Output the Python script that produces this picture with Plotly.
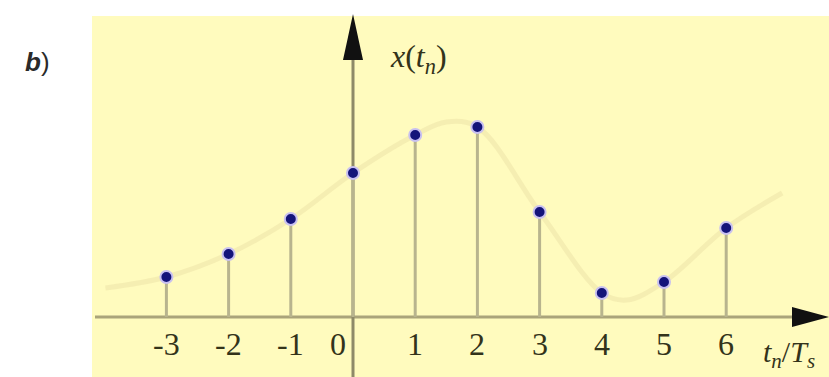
import plotly.graph_objects as go

# sample indices and sampled values
n_idx = [-3, -2, -1, 0, 1, 2, 3, 4, 5, 6]
x_vals = [0.40, 0.63, 0.98, 1.44, 1.82, 1.90, 1.05, 0.24, 0.35, 0.89]

# faint underlying continuous signal
curve_t = [-3.98, -3, -2, -1, 0, 1, 1.5, 2, 3, 4, 4.4, 5, 6, 6.9]
curve_x = [0.29, 0.40, 0.63, 0.98, 1.44, 1.82, 1.95, 1.90, 1.05, 0.24, 0.17, 0.35, 0.89, 1.24]

tick_vals = [-3, -2, -1, 0, 1, 2, 3, 4, 5, 6]
tick_text = ["-3", "-2", "-1", "0", "1", "2", "3", "4", "5", "6"]

W, H = 829, 377
X0, Y0 = 353.0, 317.0   # pixel origin
SX, SY = 62.2, 100.0    # pixels per unit

xr = [(0 - X0) / SX, (W - X0) / SX]
yr = [(Y0 - H) / SY, (Y0 - 0) / SY]

def px(p):
    return (p - X0) / SX

def py(p):
    return (Y0 - p) / SY

fig = go.Figure()

# continuous signal (faint)
fig.add_trace(go.Scatter(
    x=curve_t, y=curve_x, mode="lines",
    line=dict(color="rgba(236,228,168,0.55)", width=5, shape="spline", smoothing=1.0),
    hoverinfo="skip", showlegend=False))

# stems via error bars + markers
fig.add_trace(go.Scatter(
    x=n_idx, y=x_vals, mode="markers",
    marker=dict(size=12, color="#14147a", line=dict(color="#c8c0f0", width=2)),
    error_y=dict(type="data", symmetric=False, array=[0] * len(x_vals),
                 arrayminus=x_vals, color="#b8b48e", thickness=3, width=0),
    showlegend=False))

shapes = [
    dict(type="rect", xref="paper", yref="paper", x0=92 / W, x1=1.0, y0=0, y1=(H - 16) / H,
         fillcolor="#fffbbe", line=dict(width=0), layer="below"),
    dict(type="line", x0=px(95), x1=px(800), y0=0, y1=0,
         line=dict(color="#aaa47a", width=3), layer="below"),
    dict(type="line", x0=0, x1=0, y0=py(377), y1=py(50),
         line=dict(color="#8e8a68", width=3), layer="below"),
    dict(type="path",
         path=f"M {px(829)} {py(317)} L {px(792)} {py(307)} L {px(792)} {py(327)} Z",
         fillcolor="#111111", line=dict(width=0)),
    dict(type="path",
         path=f"M {px(353)} {py(14)} L {px(343)} {py(60)} L {px(363)} {py(60)} Z",
         fillcolor="#111111", line=dict(width=0)),
]

annotations = []
for v, t in zip(tick_vals, tick_text):
    xoff = -15 if v == 0 else 0
    annotations.append(dict(x=v, y=py(344), text=t, showarrow=False, xshift=xoff,
                            font=dict(family="Liberation Serif", size=32, color="#33331a")))
annotations += [
    dict(x=px(418), y=py(58), text="<i>x</i>(<i>t<sub>n</sub></i>)", showarrow=False,
         font=dict(family="Liberation Serif", size=32, color="#33331a")),
    dict(x=px(789), y=py(354), text="<i>t<sub>n</sub></i>/<i>T<sub>s</sub></i>", showarrow=False,
         font=dict(family="Liberation Serif", size=30, color="#33331a")),
    dict(x=px(37), y=py(62), text="<b><i>b</i></b>)", showarrow=False,
         font=dict(family="Liberation Sans", size=26, color="#2a2a2a")),
]

fig.update_layout(
    width=W, height=H,
    margin=dict(l=0, r=0, t=0, b=0),
    paper_bgcolor="white", plot_bgcolor="rgba(0,0,0,0)",
    xaxis=dict(range=xr, visible=False, fixedrange=True),
    yaxis=dict(range=yr, visible=False, fixedrange=True),
    shapes=shapes, annotations=annotations,
)

fig.write_html("out.html", config={"displayModeBar": False},
               post_script="document.body.style.margin='0px';document.body.style.overflow='hidden';")
